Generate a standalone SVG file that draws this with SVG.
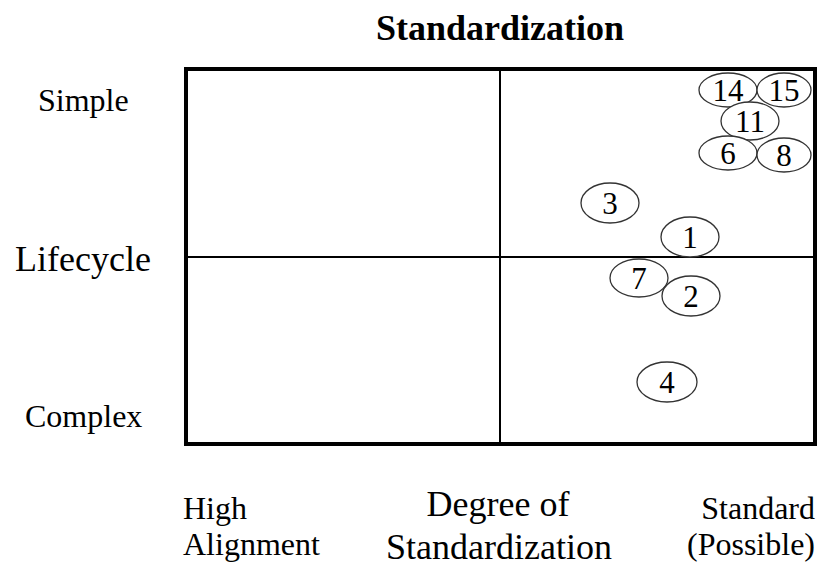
<svg xmlns="http://www.w3.org/2000/svg" width="821" height="566" viewBox="0 0 821 566">
<style>
text{font-family:"Liberation Serif","Times New Roman",serif;fill:#000}
.n{font-size:31px;text-anchor:middle}
.e{fill:#fff;stroke:#333;stroke-width:1.3}
.l32{font-size:32px}
.l36{font-size:36px}
</style>
<rect width="821" height="566" fill="#fff"/>
<text x="500" y="40" font-size="36" font-weight="bold" text-anchor="middle">Standardization</text>
<g id="axes">
<rect x="186" y="69" width="629" height="375" fill="none" stroke="#000" stroke-width="4"/>
<line x1="500" y1="69" x2="500" y2="444" stroke="#000" stroke-width="2"/>
<line x1="186" y1="257" x2="815" y2="257" stroke="#000" stroke-width="2"/>
</g>
<g id="labels">
<text x="38" y="111" class="l32">Simple</text>
<text x="15" y="271" class="l36">Lifecycle</text>
<text x="25" y="427" class="l32">Complex</text>
<text x="183" y="519" class="l32">High</text>
<text x="183" y="555" class="l32">Alignment</text>
<text x="498" y="516" class="l36" text-anchor="middle">Degree of</text>
<text x="499" y="559" class="l36" text-anchor="middle">Standardization</text>
<text x="815" y="519" class="l32" text-anchor="end">Standard</text>
<text x="815" y="555" class="l32" text-anchor="end">(Possible)</text>
</g>
<g id="n14"><ellipse class="e" cx="728" cy="90" rx="29" ry="17"/><text class="n" x="728" y="101">14</text></g>
<g id="n15"><ellipse class="e" cx="784" cy="90" rx="27" ry="17"/><text class="n" x="784" y="101">15</text></g>
<g id="n11"><ellipse class="e" cx="750" cy="121" rx="29" ry="19"/><text class="n" x="750" y="132">11</text></g>
<g id="n6"><ellipse class="e" cx="728" cy="153" rx="29" ry="17"/><text class="n" x="728" y="164">6</text></g>
<g id="n8"><ellipse class="e" cx="784" cy="155" rx="27" ry="17"/><text class="n" x="784" y="166">8</text></g>
<g id="n3"><ellipse class="e" cx="610" cy="203" rx="29" ry="20"/><text class="n" x="610" y="214">3</text></g>
<g id="n1"><ellipse class="e" cx="690" cy="237" rx="29" ry="20"/><text class="n" x="690" y="248">1</text></g>
<g id="n7"><ellipse class="e" cx="639" cy="278" rx="29" ry="19"/><text class="n" x="639" y="289">7</text></g>
<g id="n2"><ellipse class="e" cx="691" cy="296" rx="29" ry="20"/><text class="n" x="691" y="307">2</text></g>
<g id="n4"><ellipse class="e" cx="667" cy="382" rx="30" ry="20"/><text class="n" x="667" y="393">4</text></g>
</svg>
